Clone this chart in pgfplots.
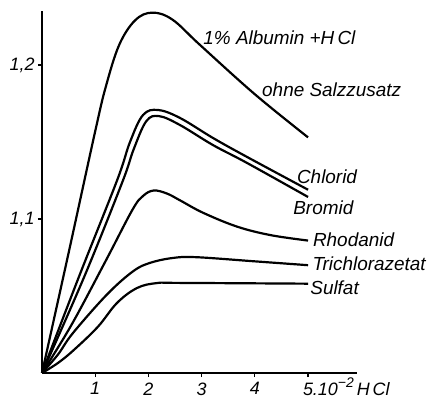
\documentclass[border=0pt]{standalone}
\usepackage{fontspec}
\setmainfont{Liberation Sans}
\usepackage{pgfplots}
\pgfplotsset{compat=1.18}
\tikzset{lab/.style={anchor=west, inner sep=0pt, font=\itshape\fontsize{19}{21}\selectfont},
  cv/.style={black, solid, line width=2.2pt, smooth, tension=0.6, mark=none}}
\begin{document}
\begin{tikzpicture}
\useasboundingbox (0,0) rectangle (433bp,399bp);
\begin{axis}[
  at={(42bp,26bp)}, anchor=south west,
  scale only axis, width=315bp, height=361.9bp,
  xmin=0, xmax=5.92, ymin=1.0, ymax=1.235,
  axis x line=bottom, axis y line=left,
  axis line style={-, line width=1.5pt},
  xtick={1,2,3,4,5},
  xticklabels={1,2,3,4,{\makebox[0pt][l]{\hspace*{-0.28em}5.10\smash{\raisebox{0.42em}{\fontsize{14}{14}\selectfont −2}}\,H\,Cl}}},
  ytick={1.1,1.2}, yticklabels={{1,1},{1,2}},
  tick align=outside, major tick length=4bp,
  tick style={line width=1.2pt, black},
  ticklabel style={font=\itshape\fontsize{18}{20}\selectfont},
  xticklabel style={yshift=-2bp},
  clip=false
]
% ohne Salzzusatz
\addplot[cv] coordinates {(0,1.0) (0.5,1.078) (1.0,1.157) (1.2,1.186) (1.45,1.213) (1.75,1.229) (2.07,1.234) (2.45,1.2295) (2.97,1.213) (4.0,1.181) (5.0,1.153)};
% Chlorid
\addplot[cv] coordinates {(0,1.0) (0.7,1.063) (1.41,1.125) (1.654,1.150) (1.898,1.1675) (2.18,1.1708) (2.594,1.1656) (3.214,1.1526) (3.853,1.1403) (5.0,1.119)};
% Bromid
\addplot[cv] coordinates {(0,1.0) (0.8,1.063) (1.51,1.124) (1.72,1.145) (1.96,1.1635) (2.2,1.1668) (2.594,1.161) (3.214,1.148) (3.853,1.1364) (5.0,1.1143)};
% Rhodanid
\addplot[cv] coordinates {(0,1.0) (0.55,1.031) (1.2,1.073) (1.7,1.106) (1.9,1.115) (2.1,1.1185) (2.35,1.1165) (2.6,1.112) (3.03,1.104) (3.67,1.095) (4.3,1.0895) (5.0,1.086)};
% Trichlorazetat
\addplot[cv] coordinates {(0,1.0) (0.3,1.012) (0.583,1.026) (1.222,1.051) (1.71,1.066) (2.03,1.0715) (2.46,1.0747) (2.9,1.0752) (4.0,1.0725) (5.0,1.070)};
% Sulfat
\addplot[cv] coordinates {(0,1.0) (0.3,1.0065) (0.6,1.015) (1.05,1.030) (1.41,1.0455) (1.786,1.0552) (2.16,1.0584) (2.6,1.0585) (5.0,1.058)};
\node[lab] at (axis cs:3.03,1.218) {1\% Albumin +H\,Cl};
\node[lab] at (axis cs:4.135,1.184) {ohne Salzzusatz};
\node[lab] at (axis cs:4.79,1.1273) {Chlorid};
\node[lab] at (axis cs:4.72,1.1071) {Bromid};
\node[lab] at (axis cs:5.09,1.0864) {Rhodanid};
\node[lab] at (axis cs:5.08,1.0708) {Trichlorazetat};
\node[lab] at (axis cs:5.04,1.0552) {Sulfat};
\end{axis}
\end{tikzpicture}
\end{document}
